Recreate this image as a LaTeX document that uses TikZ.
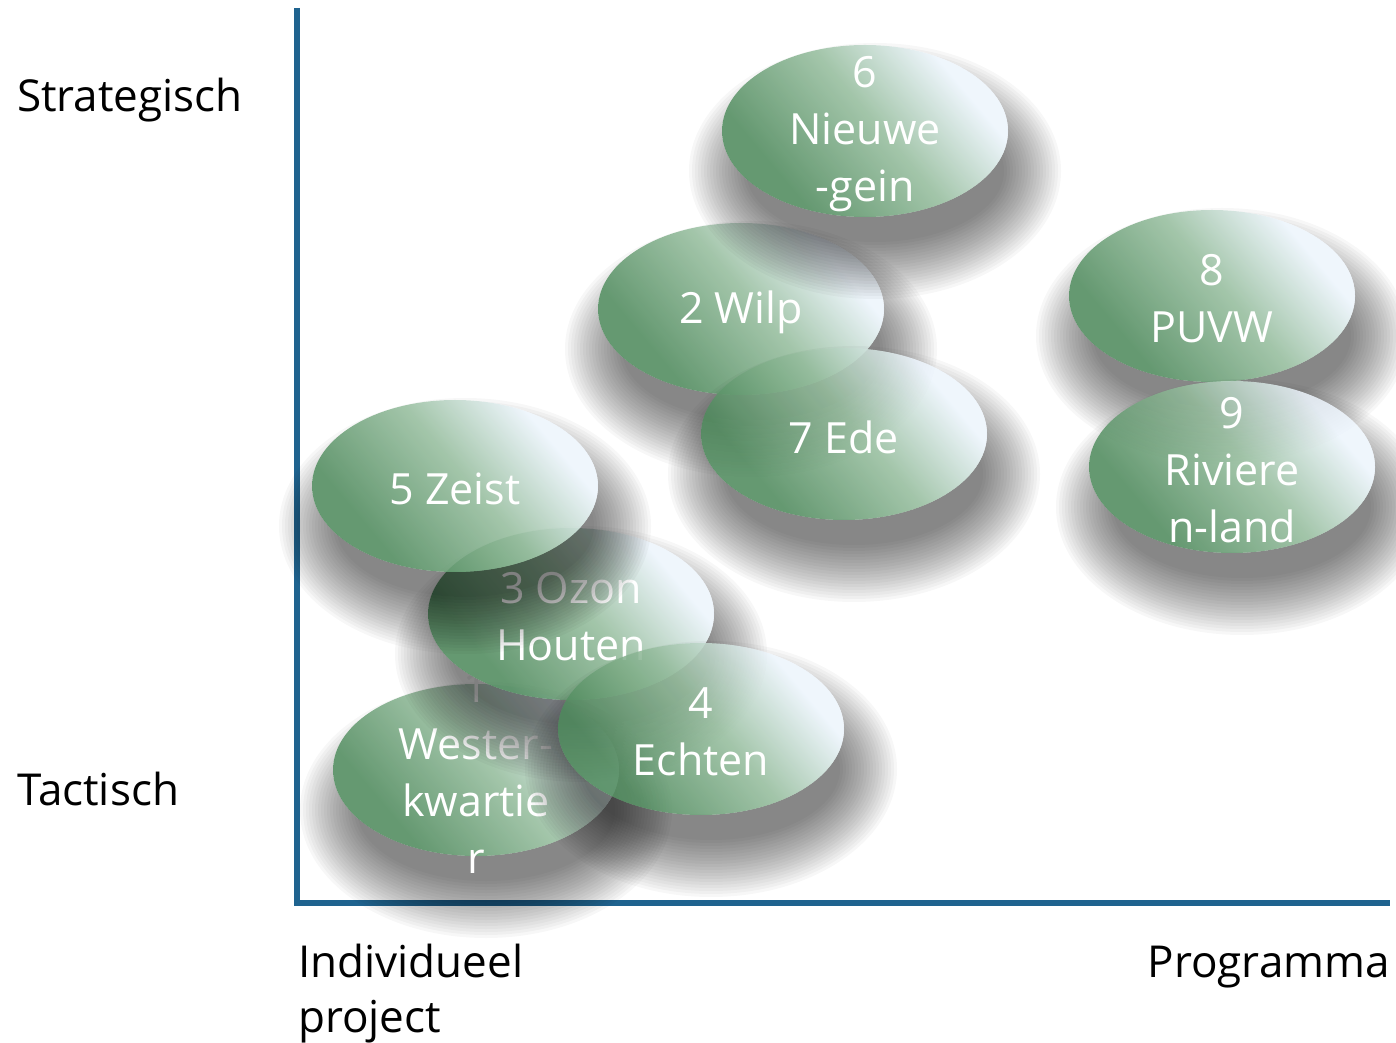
\documentclass[tikz,border=0pt]{standalone}
\usepackage{fontspec}
\setmainfont{Open Sans}
\definecolor{gdark}{RGB}{76,136,90}
\definecolor{gmid}{RGB}{148,188,156}
\definecolor{glight}{RGB}{236,244,252}
\definecolor{axisblue}{RGB}{31,99,143}
\pgfdeclarehorizontalshading{eggshade}{100bp}{color(0bp)=(gdark); color(30bp)=(gdark); color(53bp)=(gmid); color(72bp)=(glight); color(100bp)=(glight)}
\tikzset{
  eggfill/.style={shading=eggshade, shading angle=40, fill opacity=0.86},
  eggtext/.style={text=white, align=center, inner sep=0pt, font=\fontsize{43}{57}\selectfont},
  axislabel/.style={text=black, inner sep=0pt, font=\fontsize{44}{55}\selectfont, align=left},
  axisline/.style={draw=axisblue, line width=6pt, line join=miter}
}
\newcommand\eggshape[4]{%
  \begin{scope}[even odd rule]
    \clip (0,0) rectangle (1396,1042) (#2,#3) ellipse (143pt and 86pt);
    \foreach \k in {0,...,19}{\fill[black,opacity=0.03] ({#2+10},{#3-40}) ellipse ({(186-3*\k)*1pt} and {(128-3*\k)*1pt});}
  \end{scope}
  \path[eggfill] (#2,#3) ellipse (143pt and 86pt);
  \node[eggtext] (#1) at (#2,{#3-3}) {#4};
}
\begin{document}
\begin{tikzpicture}[x=1pt,y=1pt]
\useasboundingbox (0,0) rectangle (1396,1042);
\coordinate (ytop) at (297,1034);
\coordinate (origin) at (297,139);
\coordinate (xend) at (1390,139);
\draw[axisline] (ytop) -- (origin) -- (xend);
\node[axislabel, anchor=base west] (strat) at (17,930) {Strategisch};
\node[axislabel, anchor=base west] (tact) at (17,237) {Tactisch};
\node[axislabel, anchor=north west] (indiv) at (298,1042-944) {Individueel\\project};
\node[axislabel, anchor=base east] (prog) at (1390,1042-977) {Programma};
\eggshape{e2}{741}{733}{2 Wilp}
\eggshape{e7}{844}{608}{7 Ede}
\eggshape{e6}{865}{911}{6\\Nieuwe\\-gein}
\eggshape{e1}{476}{272}{1\\Wester-\\kwartie\\r}
\eggshape{e3}{571}{428}{3 Ozon\\Houten}
\eggshape{e4}{701}{313}{4\\Echten}
\eggshape{e5}{455}{556}{5 Zeist}
\eggshape{e8}{1212}{746}{8\\PUVW}
\eggshape{e9}{1232}{575}{9\\Riviere\\n-land}
\end{tikzpicture}
\end{document}
